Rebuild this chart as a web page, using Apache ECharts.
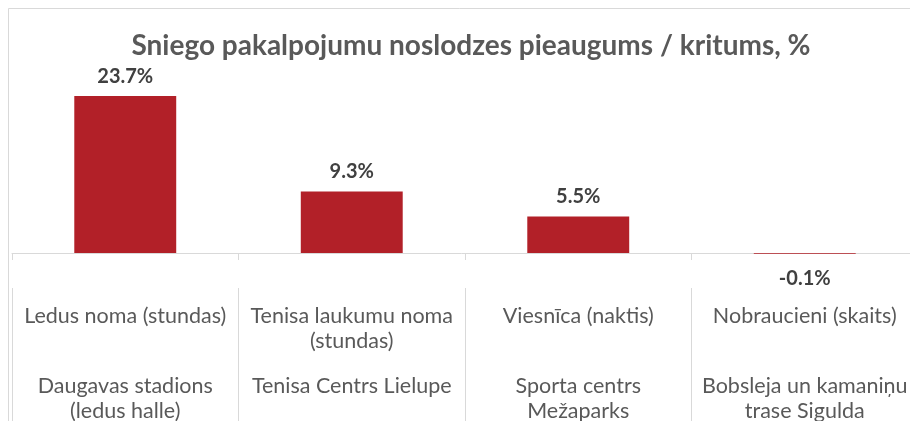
<!DOCTYPE html>
<html>
<head>
<meta charset="utf-8">
<script src="https://cdn.jsdelivr.net/npm/echarts@6/dist/echarts.min.js"></script>
<style>html,body{margin:0;padding:0;background:#fff}#c{width:910px;height:421px}</style>
</head>
<body>
<div id="c"></div>
<script>
var titleText = 'Sniego pakalpojumu noslodzes pieaugums / kritums, %';
var services = ['Ledus noma (stundas)', 'Tenisa laukumu noma\n(stundas)', 'Viesnīca (naktis)', 'Nobraucieni (skaits)'];
var venues = ['Daugavas stadions\n(ledus halle)', 'Tenisa Centrs Lielupe', 'Sporta centrs\nMežaparks', 'Bobsleja un kamaniņu\ntrase Sigulda'];
var changes = [23.7, 9.3, 5.5, -0.1];

var chart = echarts.init(document.getElementById('c'));
var labelFont = 'Lato, "Open Sans", sans-serif';
var seriesData = changes.map(function (v) {
  if (v < 0) {
    return { value: v, label: { position: 'bottom', distance: 15 } };
  }
  return v;
});
chart.setOption({
  animation: false,
  backgroundColor: '#ffffff',
  title: {
    text: titleText,
    left: 466,
    top: 27,
    textAlign: 'center',
    textStyle: { fontFamily: labelFont, fontSize: 28, fontWeight: 'bold', color: '#595959' }
  },
  graphic: [{
    type: 'rect',
    shape: { x: 8.5, y: 8.5, width: 1200, height: 1200 },
    style: { fill: 'none', stroke: '#d9d9d9', lineWidth: 1 },
    silent: true
  }],
  grid: { left: 12, width: 906, top: 87.5, height: 192, containLabel: false, outerBoundsMode: 'none' },
  xAxis: [{
    type: 'category',
    data: services,
    axisLine: { onZero: true, lineStyle: { color: '#d9d9d9', width: 1 } },
    axisTick: { show: true, length: 7, alignWithLabel: false, interval: 0, lineStyle: { color: '#d9d9d9' } },
    axisLabel: { interval: 0, margin: 24, fontFamily: labelFont, fontSize: 21.5, color: '#595959', lineHeight: 25, align: 'center' }
  }, {
    type: 'category',
    data: venues,
    position: 'bottom',
    offset: 8.5,
    axisLine: { show: false },
    axisTick: { show: true, length: 200, alignWithLabel: false, interval: 0, lineStyle: { color: '#d9d9d9' } },
    axisLabel: { interval: 0, margin: 86, fontFamily: labelFont, fontSize: 21.5, color: '#595959', lineHeight: 25, align: 'center' }
  }],
  yAxis: {
    type: 'value', min: -4, max: 25,
    show: false,
    splitLine: { show: false }
  },
  series: [{
    type: 'bar',
    xAxisIndex: 0,
    data: seriesData,
    barWidth: '45%',
    itemStyle: { color: '#B22028' },
    label: {
      show: true, position: 'top', distance: 10,
      formatter: function (p) { return p.value.toFixed(1) + '%'; },
      fontFamily: labelFont, fontSize: 20, fontWeight: 'bold', color: '#404040'
    }
  }]
});
</script>
</body>
</html>
